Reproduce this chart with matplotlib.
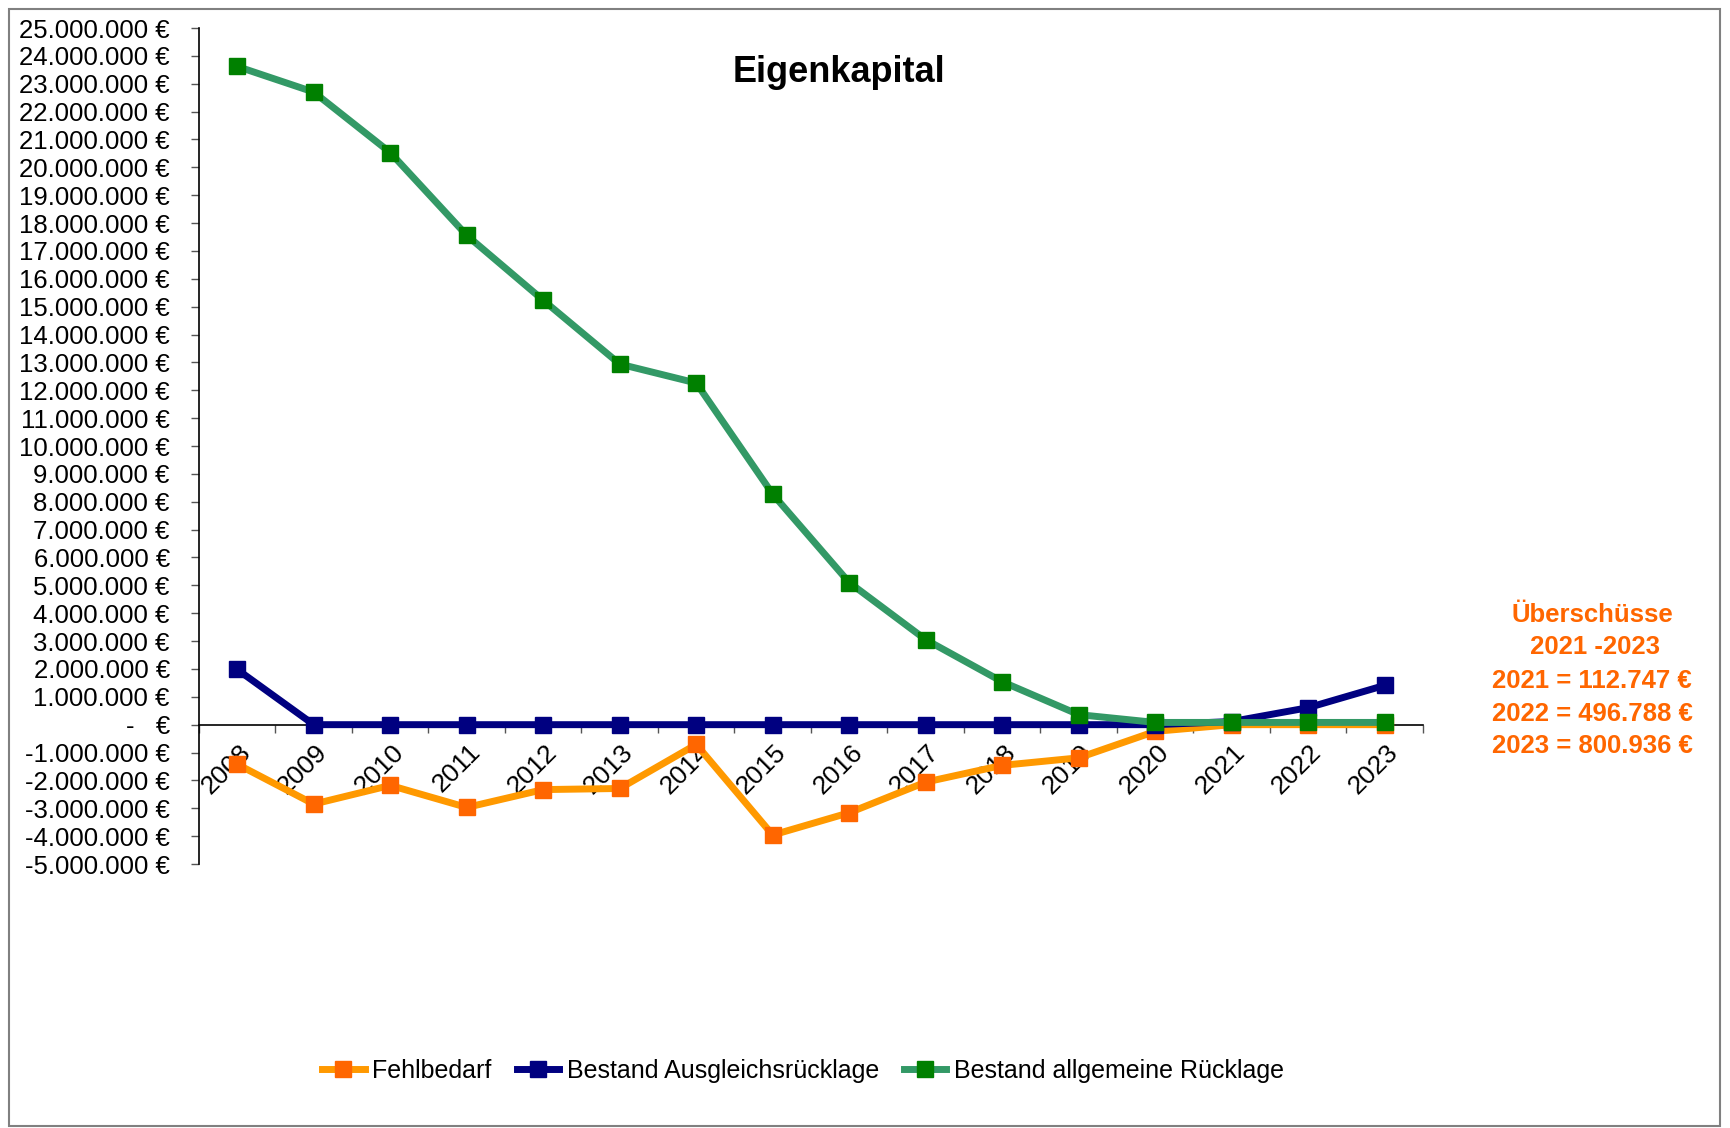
import matplotlib
matplotlib.use("Agg")
import matplotlib.pyplot as plt
from matplotlib.ticker import FuncFormatter, FixedLocator
from matplotlib.transforms import ScaledTranslation
from matplotlib.patches import Rectangle

plt.rcParams['font.family'] = ['Liberation Sans', 'DejaVu Sans']

years = [str(y) for y in range(2008, 2024)]
fehlbedarf = [-1420000, -2850000, -2180000, -2970000, -2330000, -2290000, -710000,
              -3960000, -3160000, -2060000, -1460000, -1190000, -240000, 0, 0, 0]
ausgleich = [1980000, 0, 0, 0, 0, 0, 0, 0, 0, 0, 0, 0, 0, 112747, 609535, 1410471]
allgemein = [23620000, 22700000, 20530000, 17560000, 15230000, 12940000, 12260000,
             8270000, 5100000, 3050000, 1540000, 360000, 80000, 80000, 80000, 80000]
series_names = ["Fehlbedarf", "Bestand Ausgleichsrücklage", "Bestand allgemeine Rücklage"]
title = "Eigenkapital"
note_lines = ["Überschüsse", " 2021 -2023", "2021 = 112.747 €", "2022 = 496.788 €", "2023 = 800.936 €"]

fig = plt.figure(figsize=(17.31, 11.28), dpi=100)
ax = fig.add_axes([199/1731, 1 - 864/1128, (1423 - 199)/1731, (864 - 28)/1128])

x = list(range(len(years)))
ax.plot(x, fehlbedarf, color='#FF9900', lw=5, marker='s', ms=11,
        mfc='#FF6600', mec='#FF6600', label=series_names[0], zorder=3)
ax.plot(x, ausgleich, color='#000080', lw=5, marker='s', ms=11,
        mfc='#000080', mec='#000080', label=series_names[1], zorder=4)
ax.plot(x, allgemein, color='#339966', lw=5, marker='s', ms=11,
        mfc='#008000', mec='#008000', label=series_names[2], zorder=5)

ax.set_xlim(-0.5, len(years) - 0.5)
ax.set_ylim(-5000000, 25000000)
ax.set_yticks(range(-5000000, 25000001, 1000000))

def fmt(v, pos):
    v = int(round(v))
    if v == 0:
        return "-   €"
    s = f"{abs(v):,}".replace(",", ".")
    return ("-" if v < 0 else "") + s + " €"

ax.yaxis.set_major_formatter(FuncFormatter(fmt))
ax.tick_params(axis='y', labelsize=18.5, length=6, width=1, color='#555555', pad=15)

for s in ['top', 'right']:
    ax.spines[s].set_visible(False)
ax.spines['left'].set_linewidth(1.2)
ax.spines['bottom'].set_position(('data', 0))
ax.spines['bottom'].set_linewidth(1.2)

ax.set_xticks(x)
ax.set_xticklabels(years, rotation=45, ha='right', va='top', rotation_mode='anchor')
ax.xaxis.set_minor_locator(FixedLocator([i - 0.5 for i in range(len(years) + 1)]))
ax.tick_params(axis='x', which='major', length=0, labelsize=19, pad=11)
ax.tick_params(axis='x', which='minor', length=6, width=1, color='#555555')
for lab in ax.get_xticklabels():
    lab.set_transform(lab.get_transform() + ScaledTranslation(0.01, 0, fig.dpi_scale_trans))

fig.text(839/1731, 1 - 72/1128, title, ha='center', va='center',
         fontsize=26, fontweight='bold')

ys = [615, 647, 681, 714, 746]
for line, yy in zip(note_lines, ys):
    fig.text(1592/1731, 1 - yy/1128, line, ha='center', va='center',
             fontsize=18.5, fontweight='bold', color='#FF6600')

leg = fig.legend(loc='center', bbox_to_anchor=(803/1731, 1 - 1071/1128), ncol=3,
                 frameon=False, fontsize=18, handlelength=1.7, handletextpad=0.3,
                 columnspacing=1.0)

fig.patches.append(Rectangle((9/1731, 2/1128), (1720 - 9)/1731, (1119 - 2)/1128,
                             transform=fig.transFigure, fill=False,
                             edgecolor='#808080', lw=1.5))

fig.savefig("out.png", dpi=100, facecolor='white')
